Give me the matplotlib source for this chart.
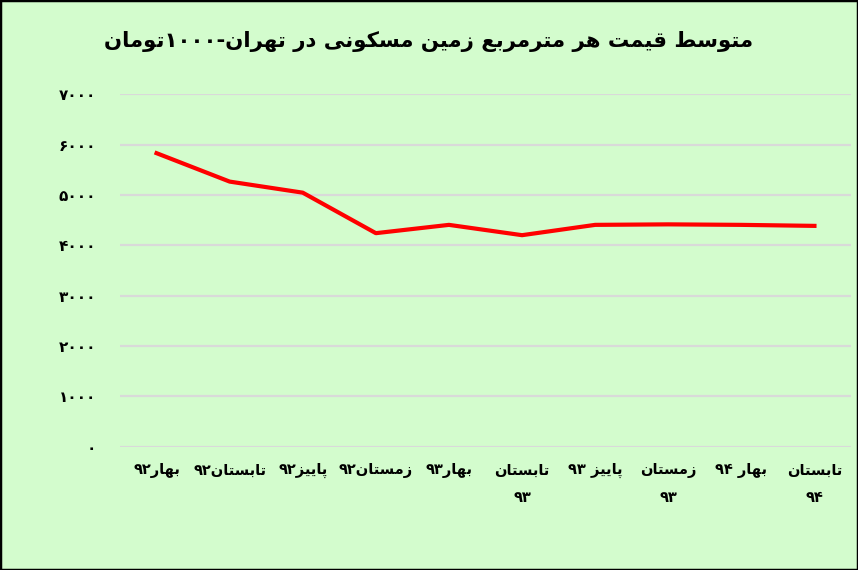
import matplotlib
matplotlib.use("Agg")
import matplotlib.pyplot as plt
from matplotlib.patches import Rectangle

# ---------------- data ----------------
title_text = "متوسط قیمت هر مترمربع زمین مسکونی در تهران-۱۰۰۰تومان"
categories = ["بهار۹۲", "تابستان۹۲", "پاییز۹۲", "زمستان۹۲", "بهار۹۳",
              "تابستان\n۹۳", "پاییز ۹۳", "زمستان\n۹۳", "بهار ۹۴", "تابستان\n۹۴"]
values = [5830, 5265, 5045, 4240, 4405, 4200, 4405, 4415, 4405, 4385]
y_ticks = [0, 1000, 2000, 3000, 4000, 5000, 6000, 7000]

# ------------- minimal Persian shaping -------------
FORMS = {  # isolated, final, initial, medial
    "\u0627": ("\uFE8D", "\uFE8E", None, None),
    "\u062F": ("\uFEA9", "\uFEAA", None, None),
    "\u0631": ("\uFEAD", "\uFEAE", None, None),
    "\u0632": ("\uFEAF", "\uFEB0", None, None),
    "\u0648": ("\uFEED", "\uFEEE", None, None),
    "\u0628": ("\uFE8F", "\uFE90", "\uFE91", "\uFE92"),
    "\u067E": ("\uFB56", "\uFB57", "\uFB58", "\uFB59"),
    "\u062A": ("\uFE95", "\uFE96", "\uFE97", "\uFE98"),
    "\u0633": ("\uFEB1", "\uFEB2", "\uFEB3", "\uFEB4"),
    "\u0637": ("\uFEC1", "\uFEC2", "\uFEC3", "\uFEC4"),
    "\u0639": ("\uFEC9", "\uFECA", "\uFECB", "\uFECC"),
    "\u0642": ("\uFED5", "\uFED6", "\uFED7", "\uFED8"),
    "\u06A9": ("\uFB8E", "\uFB8F", "\uFB90", "\uFB91"),
    "\u0645": ("\uFEE1", "\uFEE2", "\uFEE3", "\uFEE4"),
    "\u0646": ("\uFEE5", "\uFEE6", "\uFEE7", "\uFEE8"),
    "\u0647": ("\uFEE9", "\uFEEA", "\uFEEB", "\uFEEC"),
    "\u06CC": ("\uFBFC", "\uFBFD", "\uFBFE", "\uFBFF"),
    "\u0644": ("\uFEDD", "\uFEDE", "\uFEDF", "\uFEE0"),
}


def jtype(c):
    if c in FORMS:
        return "D" if FORMS[c][2] else "R"
    return "U"


def is_digit(c):
    return "\u06F0" <= c <= "\u06F9" or c.isdigit()


def shape_line(s):
    out = []
    for i, c in enumerate(s):
        t = jtype(c)
        if t == "U":
            out.append(c)
            continue
        jp = i > 0 and jtype(s[i - 1]) == "D"
        jn = t == "D" and i + 1 < len(s) and jtype(s[i + 1]) != "U"
        iso, fin, ini, med = FORMS[c]
        if jp and jn:
            out.append(med)
        elif jp:
            out.append(fin)
        elif jn:
            out.append(ini)
        else:
            out.append(iso)
    # visual reordering: RTL, keep digit runs LTR
    tokens, i = [], 0
    while i < len(out):
        if is_digit(out[i]):
            j = i
            while j < len(out) and is_digit(out[j]):
                j += 1
            tokens.append("".join(out[i:j]))
            i = j
        else:
            tokens.append(out[i])
            i += 1
    return "".join(reversed(tokens))


def rtl(s):
    return "\n".join(shape_line(line) for line in s.split("\n"))


def fa_digits(n):
    return str(n).translate(str.maketrans("0123456789", "۰۱۲۳۴۵۶۷۸۹"))


# ---------------- figure ----------------
W, H = 858, 570
bg = "#D3FCCD"
plt.rcParams["font.family"] = ["DejaVu Sans"]
fig = plt.figure(figsize=(W / 100, H / 100), dpi=100, facecolor=bg)
ax = fig.add_axes([120 / W, 1 - 446.5 / H, 731 / W, (446.5 - 94.3) / H])
ax.set_facecolor(bg)

x = list(range(len(categories)))
ax.plot(x, values, color="#FF0000", linewidth=3.0, solid_joinstyle="round", zorder=3)

ax.set_xlim(-0.5, len(categories) - 0.5)
ax.set_ylim(0, 7000)
ax.set_yticks(y_ticks)
ax.set_yticklabels([fa_digits(v) for v in y_ticks], fontsize=11, fontweight="bold")
ax.set_xticks(x)
ax.set_xticklabels([rtl(c) for c in categories], fontsize=10.5, fontweight="bold",
                   linespacing=2.0, va="top")
ax.tick_params(axis="both", length=0)
ax.tick_params(axis="y", pad=17)
ax.tick_params(axis="x", pad=12)
for s in ax.spines.values():
    s.set_visible(False)
ax.grid(axis="y", color="#D9D9D9", linewidth=1.6, zorder=1)
ax.set_axisbelow(True)

fig.text(429 / W, 1 - 41 / H, rtl(title_text), ha="center", va="center",
         fontsize=15.3, fontweight="bold", color="black")

fig.patches.append(Rectangle((0, 0), 1, 1, transform=fig.transFigure, fill=False,
                             edgecolor="black", linewidth=2.5, zorder=10))

fig.savefig("out.png", dpi=100, facecolor=bg)
